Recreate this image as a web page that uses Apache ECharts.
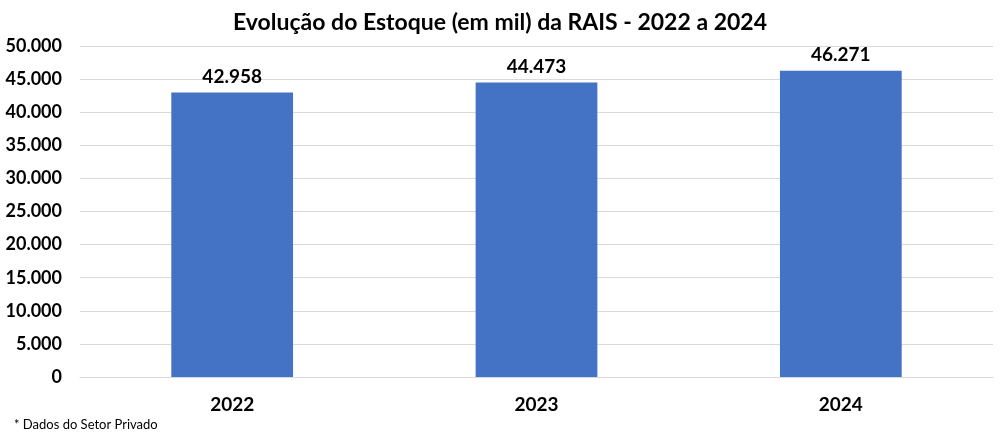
<!DOCTYPE html>
<html>
<head>
	<meta charset="utf-8">
	<title>RAIS</title>
	<style>
		html, body { margin: 0; padding: 0; background: #fff; }
	</style>
</head>
<body>

<div id="graph" style="width: 1000px; height: 437px;"></div>
<script type="text/javascript" src="https://cdn.jsdelivr.net/npm/echarts@6/dist/echarts.min.js"></script>
<script type="text/javascript">
	// dados (estoque em mil)
	const anos = ['2022', '2023', '2024'];
	const estoque = [42958, 44473, 46271];

	const fonte = 'Lato, "Open Sans", sans-serif';

	// 42958 -> "42.958"
	function fmt(v) {
		return String(v).replace(/\B(?=(\d{3})+(?!\d))/g, '.');
	}

	let chart = echarts.init(document.getElementById('graph'));

	chart.setOption({
		animation: false,
		title: [
			{
				text: 'Evolução do Estoque (em mil) da RAIS - 2022 a 2024',
				left: 'center',
				top: 6,
				textStyle: { fontFamily: fonte, fontSize: 23, fontWeight: 'bold', color: '#000' }
			},
			{
				text: '* Dados do Setor Privado',
				left: 9,
				top: 413,
				textStyle: { fontFamily: fonte, fontSize: 13, fontWeight: 'normal', color: '#000' }
			}
		],
		grid: {
			left: 80,
			right: 7,
			top: 46,
			bottom: 60
		},
		xAxis: {
			type: 'category',
			data: anos,
			axisLine: { lineStyle: { color: '#d9d9d9' } },
			axisTick: { show: false },
			axisLabel: {
				margin: 18,
				fontFamily: fonte,
				fontSize: 19,
				fontWeight: 'bold',
				color: '#000'
			}
		},
		yAxis: {
			type: 'value',
			min: 0,
			max: 50000,
			interval: 5000,
			axisLine: { show: false },
			axisTick: { show: false },
			splitLine: { lineStyle: { color: '#d9d9d9' } },
			axisLabel: {
				margin: 18,
				fontFamily: fonte,
				fontSize: 18,
				fontWeight: 'bold',
				color: '#000',
				formatter: fmt
			}
		},
		series: [
			{
				type: 'bar',
				data: estoque,
				barWidth: '40%',
				itemStyle: { color: '#4472c4' },
				label: {
					show: true,
					position: 'top',
					distance: 6,
					fontFamily: fonte,
					fontSize: 19,
					fontWeight: 'bold',
					color: '#000',
					formatter: p => fmt(p.value)
				}
			}
		]
	});
</script>
</body>
</html>
